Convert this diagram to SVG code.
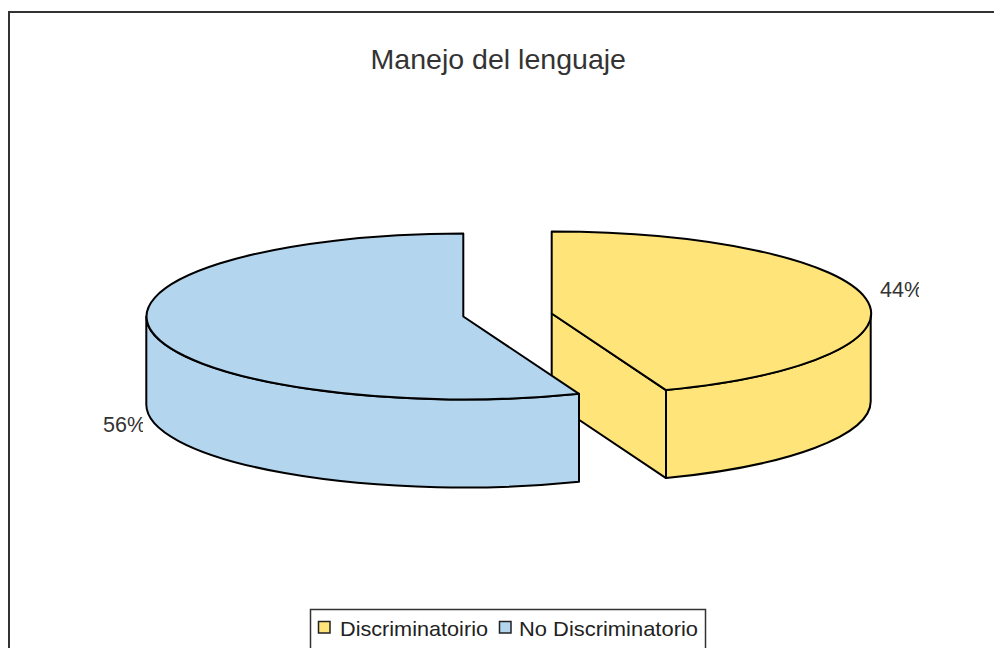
<svg xmlns="http://www.w3.org/2000/svg" width="994" height="648" viewBox="0 0 994 648">
<style>
.txt{font-family:"Liberation Sans",Arial,sans-serif;fill:#333}
.yel{fill:#FFE479;stroke:#000;stroke-width:2;stroke-linejoin:round}
.blu{fill:#B3D5EE;stroke:#000;stroke-width:2;stroke-linejoin:round}
</style>
<defs>
<clipPath id="c44"><rect x="870" y="270" width="49" height="40"/></clipPath>
<clipPath id="c56"><rect x="95" y="405" width="48" height="40"/></clipPath>
</defs>
<rect x="0" y="0" width="994" height="648" fill="#fff"/>
<rect id="frame" x="9" y="12" width="1000" height="700" fill="#fff" stroke="#333" stroke-width="2"/>
<text class="txt" x="370.5" y="69" font-size="28" textLength="255.5" lengthAdjust="spacingAndGlyphs">Manejo del lenguaje</text>
<g id="slice-discriminatorio">
<path class="yel" d="M551.7,313.5 L666,390.1 L666,478.1 L551.7,401.5 Z"/>
<path class="yel" d="M870.7,313.5 A319 82 0 0 1 666,390.1 L666,478.1 A319 82 0 0 0 870.7,401.5 Z"/>
<path class="yel" d="M551.7,313.5 L551.7,231.5 A319 82 0 0 1 666,390.1 Z"/>
<text class="txt" x="880" y="297" font-size="21.5" clip-path="url(#c44)">44%</text>
</g>
<g id="slice-no-discriminatorio">
<path class="blu" d="M146.3,316.5 A317 83 0 0 0 579,393.8 L579,481.8 A317 83 0 0 1 146.3,404.5 Z"/>
<path class="blu" d="M463.3,316.5 L463.3,233.5 A317 83 0 1 0 579,393.8 Z"/>
<text class="txt" x="103" y="432" font-size="21.5" clip-path="url(#c56)">56%</text>
</g>
<g id="legend">
<rect x="310.5" y="609.5" width="395" height="60" fill="#fff" stroke="#333" stroke-width="1.5"/>
<rect x="318.5" y="621.5" width="11.5" height="11.5" fill="#FFE479" stroke="#222" stroke-width="1.5"/>
<text class="txt" x="340" y="636" font-size="21" textLength="148" lengthAdjust="spacingAndGlyphs" style="fill:#222">Discriminatoirio</text>
<rect x="499.5" y="621.5" width="11.5" height="11.5" fill="#B3D5EE" stroke="#222" stroke-width="1.5"/>
<text class="txt" x="519" y="636" font-size="21" textLength="179" lengthAdjust="spacingAndGlyphs" style="fill:#222">No Discriminatorio</text>
</g>
</svg>
